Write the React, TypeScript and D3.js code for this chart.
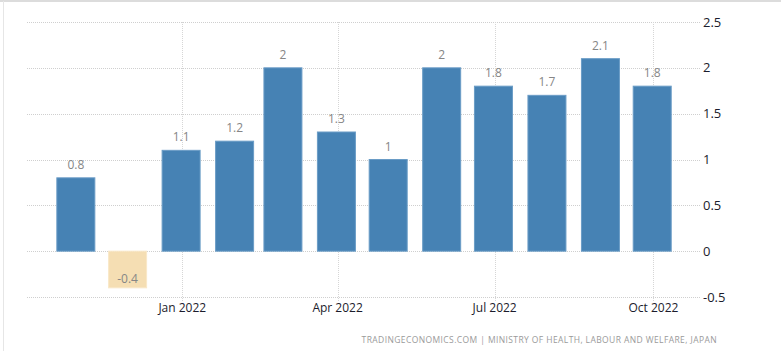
import { FC } from 'react';
import * as d3 from 'd3';

// monthly values, Nov 2021 .. Oct 2022
const months = [
  '2021-11', '2021-12', '2022-01', '2022-02', '2022-03', '2022-04',
  '2022-05', '2022-06', '2022-07', '2022-08', '2022-09', '2022-10',
];
const values = [0.8, -0.4, 1.1, 1.2, 2, 1.3, 1, 2, 1.8, 1.7, 2.1, 1.8];
const yTicks = [-0.5, 0, 0.5, 1, 1.5, 2, 2.5];
const xTicks = ['2022-01', '2022-04', '2022-07', '2022-10'];
const source = 'TRADINGECONOMICS.COM | MINISTRY OF HEALTH, LABOUR AND WELFARE, JAPAN';

const W = 781;
const H = 351;
const font = "'Open Sans', 'Noto Sans', sans-serif";

const parse = d3.utcParse('%Y-%m');

const App: FC = () => {
  const x = d3
    .scaleUtc()
    .domain([new Date(Date.UTC(2021, 9, 3)), new Date(Date.UTC(2022, 9, 28))])
    .range([27, 700]);
  const y = d3.scaleLinear().domain([-0.5, 2.5]).range([297, 22]);
  const barW = 38;
  const barShift = -1.2; // bars sit a touch left of the month tick
  const fmt = d3.utcFormat('%b %Y');

  return (
    <svg
      width={W}
      height={H}
      style={{ position: 'absolute', left: 0, top: 0, background: '#fff' }}
      fontFamily={font}
    >
      {/* frame */}
      <line x1={0} x2={W} y1={1} y2={1} stroke="#dcdcdc" strokeWidth={2} />
      <line x1={3.5} x2={3.5} y1={1} y2={H} stroke="#e6e6e6" />

      {/* horizontal grid */}
      {yTicks.map((t) => (
        <line
          key={'h' + t}
          x1={27}
          x2={700}
          y1={Math.round(y(t)) + 0.5}
          y2={Math.round(y(t)) + 0.5}
          stroke="#cfcfcf"
          strokeDasharray="1,1"
        />
      ))}
      {/* vertical grid */}
      {xTicks.map((m) => {
        const xx = Math.round(x(parse(m)!)) + 0.5;
        return (
          <line key={'v' + m} x1={xx} x2={xx} y1={22} y2={302} stroke="#d6d6d6" strokeDasharray="1,1" />
        );
      })}

      {/* bars */}
      {months.map((m, i) => {
        const v = values[i];
        const cx = x(parse(m)!) + barShift;
        const y0 = y(0);
        const yv = y(v);
        const neg = v < 0;
        return (
          <g key={m}>
            <rect
              x={cx - barW / 2}
              y={Math.min(y0, yv)}
              width={barW}
              height={Math.abs(yv - y0)}
              fill={neg ? '#f5deb3' : '#4682b4'}
              stroke={neg ? '#f9e8c8' : '#6a9cc6'}
              strokeWidth={1}
            />
            <text
              x={cx}
              y={neg ? yv - 5 : yv - 9}
              textAnchor="middle"
              fontSize={12}
              fill="#868686"
            >
              {v}
            </text>
          </g>
        );
      })}

      {/* y axis labels */}
      {yTicks.map((t) => (
        <text key={'yl' + t} x={703} y={y(t) + 4.5} fontSize={13} fill="#1c1c2c">
          {t}
        </text>
      ))}

      {/* x axis labels */}
      {xTicks.map((m) => (
        <text
          key={'xl' + m}
          x={x(parse(m)!)}
          y={312}
          textAnchor="middle"
          fontSize={12}
          fill="#1c1c2c"
        >
          {fmt(parse(m)!)}
        </text>
      ))}

      {/* source */}
      <text x={717} y={343} textAnchor="end" fontSize={8.5} fill="#9a9a9a" letterSpacing={0.4}>
        {source}
      </text>
    </svg>
  );
};

export default App;
